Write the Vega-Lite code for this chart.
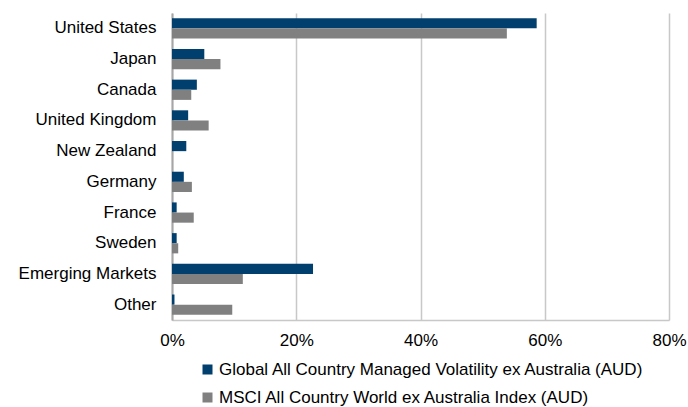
{
  "$schema": "https://vega.github.io/schema/vega-lite/v6.json",
  "autosize": "none",
  "width": 497,
  "height": 307,
  "padding": {"left": 172, "top": 13, "right": 19, "bottom": 87},
  "background": "white",
  "config": {
    "view": {"stroke": null},
    "font": "Liberation Sans",
    "axis": {"labelFont": "Liberation Sans", "labelFontSize": 17, "labelColor": "#000000"},
    "legend": {"labelFont": "Liberation Sans", "labelFontSize": 17, "labelColor": "#000000"}
  },
  "data": {
    "values": [
      {"country": "United States", "series": "Global All Country Managed Volatility ex Australia (AUD)", "value": 58.7},
      {"country": "United States", "series": "MSCI All Country World ex Australia Index (AUD)", "value": 53.9},
      {"country": "Japan", "series": "Global All Country Managed Volatility ex Australia (AUD)", "value": 5.2},
      {"country": "Japan", "series": "MSCI All Country World ex Australia Index (AUD)", "value": 7.8},
      {"country": "Canada", "series": "Global All Country Managed Volatility ex Australia (AUD)", "value": 4.0},
      {"country": "Canada", "series": "MSCI All Country World ex Australia Index (AUD)", "value": 3.1},
      {"country": "United Kingdom", "series": "Global All Country Managed Volatility ex Australia (AUD)", "value": 2.6},
      {"country": "United Kingdom", "series": "MSCI All Country World ex Australia Index (AUD)", "value": 5.9},
      {"country": "New Zealand", "series": "Global All Country Managed Volatility ex Australia (AUD)", "value": 2.3},
      {"country": "New Zealand", "series": "MSCI All Country World ex Australia Index (AUD)", "value": 0.0},
      {"country": "Germany", "series": "Global All Country Managed Volatility ex Australia (AUD)", "value": 1.9},
      {"country": "Germany", "series": "MSCI All Country World ex Australia Index (AUD)", "value": 3.2},
      {"country": "France", "series": "Global All Country Managed Volatility ex Australia (AUD)", "value": 0.75},
      {"country": "France", "series": "MSCI All Country World ex Australia Index (AUD)", "value": 3.5},
      {"country": "Sweden", "series": "Global All Country Managed Volatility ex Australia (AUD)", "value": 0.75},
      {"country": "Sweden", "series": "MSCI All Country World ex Australia Index (AUD)", "value": 1.0},
      {"country": "Emerging Markets", "series": "Global All Country Managed Volatility ex Australia (AUD)", "value": 22.7},
      {"country": "Emerging Markets", "series": "MSCI All Country World ex Australia Index (AUD)", "value": 11.4},
      {"country": "Other", "series": "Global All Country Managed Volatility ex Australia (AUD)", "value": 0.4},
      {"country": "Other", "series": "MSCI All Country World ex Australia Index (AUD)", "value": 9.7}
    ]
  },
  "mark": {"type": "bar", "stroke": null},
  "encoding": {
    "y": {
      "field": "country",
      "type": "nominal",
      "sort": ["United States", "Japan", "Canada", "United Kingdom", "New Zealand", "Germany", "France", "Sweden", "Emerging Markets", "Other"],
      "scale": {"paddingInner": 0.34, "paddingOuter": 0.17},
      "axis": {"title": null, "ticks": false, "domain": true, "domainColor": "#a6a6a6", "domainWidth": 2, "labelPadding": 16, "grid": false}
    },
    "x": {
      "field": "value",
      "type": "quantitative",
      "scale": {"domain": [0, 80]},
      "axis": {"title": null, "values": [0, 20, 40, 60, 80], "labelExpr": "datum.value + '%'", "ticks": false, "grid": true, "gridColor": "#c8c8c8", "gridWidth": 1.5, "domainColor": "#c8c8c8", "domainWidth": 1.5, "labelPadding": 12, "labelFlush": false}
    },
    "yOffset": {
      "field": "series",
      "type": "nominal",
      "sort": ["Global All Country Managed Volatility ex Australia (AUD)", "MSCI All Country World ex Australia Index (AUD)"],
      "scale": {"paddingInner": 0}
    },
    "color": {
      "field": "series",
      "type": "nominal",
      "sort": ["Global All Country Managed Volatility ex Australia (AUD)", "MSCI All Country World ex Australia Index (AUD)"],
      "scale": {"range": ["#003f6e", "#808080"]},
      "legend": {"title": null, "orient": "none", "legendX": 27, "legendY": 348, "symbolType": "square", "symbolSize": 100, "rowPadding": 10, "labelOffset": 3, "labelLimit": 0, "symbolStrokeWidth": 0}
    }
  }
}
